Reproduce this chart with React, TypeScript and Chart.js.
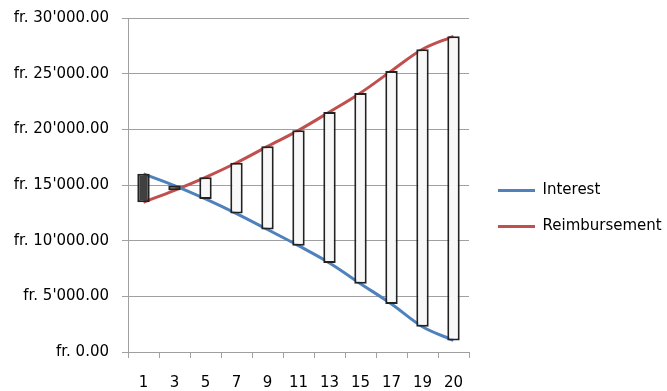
import React, { useEffect, useRef } from 'react';
import { Chart, registerables } from 'chart.js';

Chart.register(...registerables);

const categories = ['1', '3', '5', '7', '9', '11', '13', '15', '17', '19', '20'];
const interest = [16000, 14950, 13750, 12430, 11000, 9550, 8000, 6140, 4310, 2270, 1040];
const reimbursement = [13450, 14520, 15690, 17000, 18470, 19910, 21560, 23270, 25250, 27190, 28360];
const seriesNames = ['Interest', 'Reimbursement'];
const yMin = 0;
const yMax = 30000;
const yStep = 5000;

const formatFr = (v: number) => {
  const [intPart, dec] = Number(v).toFixed(2).split('.');
  return "fr. " + intPart.replace(/\B(?=(\d{3})+(?!\d))/g, "'") + '.' + dec;
};

const legendShift = {
  id: 'legendShift',
  afterLayout(chart: any) {
    const lg = chart.legend;
    if (lg) {
      lg.top += 4;
      lg.bottom += 4;
    }
  },
};

export default function App() {
  const ref = useRef<HTMLCanvasElement | null>(null);

  useEffect(() => {
    if (!ref.current) return;
    const gridColor = '#a0a0a0';
    const chart = new Chart(ref.current, {
      type: 'bar',
      data: {
        labels: categories,
        datasets: [
          {
            type: 'bar',
            label: 'updown',
            data: interest.map((v, i) => [v, reimbursement[i]]) as any,
            backgroundColor: interest.map((v, i) => (v > reimbursement[i] ? '#404040' : '#f8f8f8')),
            borderColor: '#222222',
            borderWidth: 2,
            borderSkipped: false,
            barPercentage: 0.4,
            categoryPercentage: 1,
            order: 0,
          } as any,
          {
            type: 'line',
            label: seriesNames[0],
            data: interest,
            borderColor: '#4f81bd',
            backgroundColor: '#4f81bd',
            borderWidth: 3,
            pointRadius: 0,
            tension: 0.35,
            fill: false,
            order: 1,
          } as any,
          {
            type: 'line',
            label: seriesNames[1],
            data: reimbursement,
            borderColor: '#c0504d',
            backgroundColor: '#c0504d',
            borderWidth: 3,
            pointRadius: 0,
            tension: 0.35,
            fill: false,
            order: 1,
          } as any,
        ],
      },
      plugins: [legendShift],
      options: {
        responsive: false,
        animation: false,
        font: { family: "'DejaVu Sans'", size: 15 },
        layout: { padding: { top: 18, left: 0, right: 0, bottom: 0 } },
        plugins: {
          tooltip: { enabled: false },
          legend: {
            position: 'right',
            maxWidth: 190,
            labels: {
              color: '#000',
              font: { family: "'DejaVu Sans'", size: 15 },
              boxWidth: 37,
              boxHeight: 3,
              padding: 21,
              filter: (item: any) => item.text !== 'updown',
              generateLabels: (chart: any) =>
                (Chart.defaults.plugins.legend.labels.generateLabels as any)(chart).map((l: any) => ({
                  ...l,
                  lineWidth: 0,
                })),
            },
          },
        },
        scales: {
          x: {
            offset: true,
            grid: {
              display: true,
              offset: true,
              drawOnChartArea: false,
              drawTicks: true,
              tickLength: 6,
              color: gridColor,
            },
            border: { display: true, color: gridColor, width: 1 },
            ticks: {
              color: '#000',
              font: { family: "'DejaVu Sans'", size: 15 },
              padding: 16,
              maxRotation: 0,
              autoSkip: false,
            },
            afterFit: (s: any) => {
              s.height = 39;
              s.paddingLeft = 0;
              s.paddingRight = 0;
            },
          },
          y: {
            min: yMin,
            max: yMax,
            grid: { color: gridColor, tickLength: 6, drawTicks: true },
            border: { display: true, color: gridColor, width: 1 },
            ticks: {
              stepSize: yStep,
              color: '#000',
              font: { family: "'DejaVu Sans'", size: 15 },
              padding: 13,
              callback: (v: any) => formatFr(Number(v)),
            },
            afterFit: (s: any) => {
              s.width = 128;
              s.paddingTop = 0;
              s.paddingBottom = 0;
            },
          },
          spacer: {
            type: 'linear',
            position: 'right',
            display: true,
            min: 0,
            max: 1,
            grid: { display: false, drawTicks: false },
            border: { display: false },
            ticks: { display: false },
            afterFit: (s: any) => {
              s.width = 8;
              s.paddingTop = 0;
              s.paddingBottom = 0;
            },
          },
        } as any,
      },
    } as any);
    return () => chart.destroy();
  }, []);

  return (
    <div style={{ position: 'fixed', left: 0, top: 0, width: 667, height: 391, background: '#fff' }}>
      <canvas ref={ref} width={667} height={391} style={{ display: 'block' }} />
    </div>
  );
}
